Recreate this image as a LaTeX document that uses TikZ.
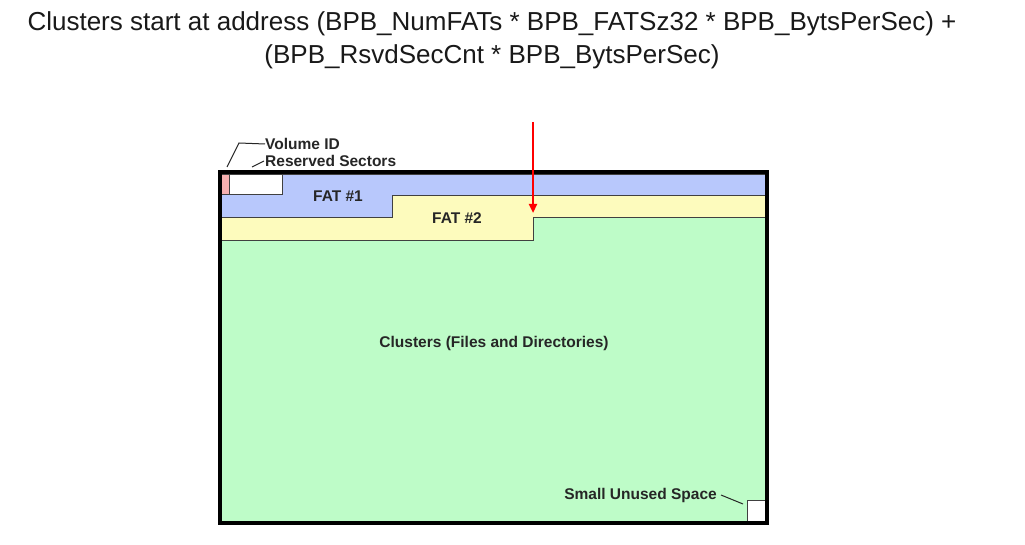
\documentclass[tikz,border=0pt]{standalone}
\usepackage{fontspec}
\setmainfont{Liberation Sans}
\usetikzlibrary{arrows.meta}
\definecolor{fatblue}{HTML}{B8C8FC}
\definecolor{fatyellow}{HTML}{FDFBBD}
\definecolor{clgreen}{HTML}{BEFCC8}
\definecolor{volpink}{HTML}{F6B0B0}
\definecolor{edgegray}{HTML}{404040}
\tikzset{
  region/.style={draw=edgegray, line width=0.9pt},
  lbl/.style={font=\fontsize{15.5}{17}\selectfont\bfseries, inner sep=0pt, text=black!85},
  ttl/.style={font=\fontsize{26}{30}\selectfont, inner sep=0pt, text=black!90},
  leader/.style={draw=black!85, line width=1pt},
}
\begin{document}
\begin{tikzpicture}[x=1pt,y=-1pt]
\useasboundingbox (0,0) rectangle (1025,545);
\fill[white] (0,0) rectangle (1025,545);
% title
\node[ttl] (title1) at (492,24) {Clusters start at address (BPB\_NumFATs * BPB\_FATSz32 * BPB\_BytsPerSec) +};
\node[ttl] (title2) at (492,57) {(BPB\_RsvdSecCnt * BPB\_BytsPerSec)};
% clusters (green)
\path[region, fill=clgreen] (221,240) -- (533,240) -- (533,217) -- (766,217) -- (766,522) -- (221,522) -- cycle;
% FAT #2 (yellow)
\path[region, fill=fatyellow] (221,217) -- (392,217) -- (392,195) -- (766,195) -- (766,217) -- (533,217) -- (533,240) -- (221,240) -- cycle;
% FAT #1 (blue)
\path[region, fill=fatblue] (221,194) -- (282,194) -- (282,174) -- (766,174) -- (766,195) -- (392,195) -- (392,217) -- (221,217) -- cycle;
% volume id and reserved sectors
\path[region, fill=volpink] (221,174) rectangle (229,194);
\path[region, fill=white] (229,174) rectangle (282,194);
% small unused space
\path[region, fill=white] (747,500) rectangle (766,522);
% outer border
\draw[line width=3.5pt] (220,172) rectangle (767,523);
% labels
\node[lbl, anchor=west] (volid) at (265,144) {Volume ID};
\node[lbl, anchor=west] (rsvd) at (265,161) {Reserved Sectors};
\node[lbl] (fat1) at (338,196) {FAT \#1};
\node[lbl] (fat2) at (457,218) {FAT \#2};
\node[lbl] (clusters) at (494,343) {Clusters (Files and Directories)};
\node[lbl, anchor=east] (unused) at (717,495) {Small Unused Space};
% leaders
\coordinate (volbend) at (239,143);
\coordinate (voltip) at (227,167);
\coordinate (rsvdtip) at (252,167);
\coordinate (unusedtip) at (743,504);
\draw[leader] (volid.west) -- (volbend) -- (voltip);
\draw[leader] ([xshift=-1pt]rsvd.west) -- (rsvdtip);
\draw[leader] ([xshift=4pt]unused.east) -- (unusedtip);
% red arrow
\coordinate (arrowtop) at (533,122);
\coordinate (arrowtip) at (533,213);
\draw[red, line width=2.2pt, -{Triangle[length=9pt,width=8pt]}] (arrowtop) -- (arrowtip);
\end{tikzpicture}
\end{document}
